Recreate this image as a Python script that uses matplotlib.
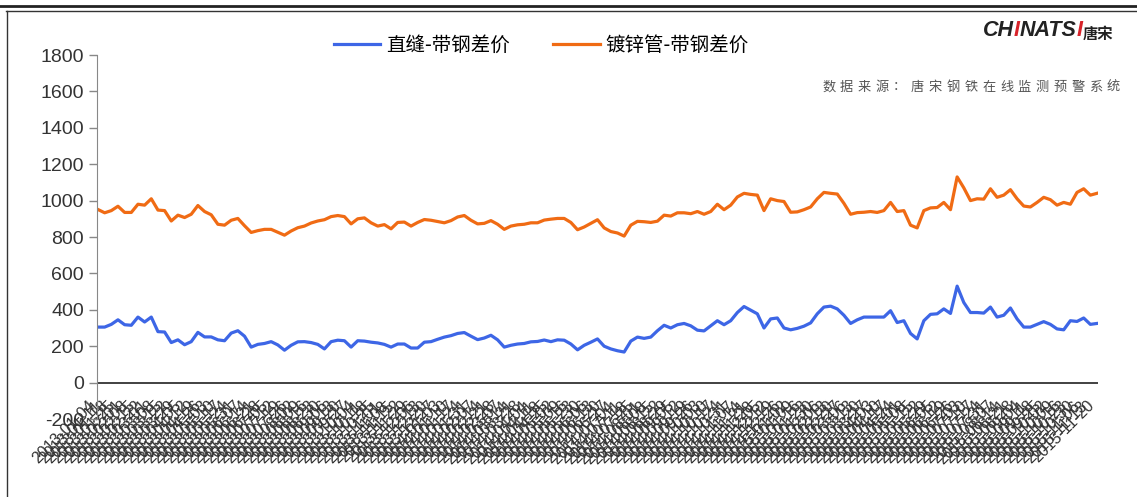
import matplotlib.pyplot as plt
import pandas as pd
from matplotlib.lines import Line2D

plt.rcParams['font.family'] = ['Liberation Sans', 'Noto Sans CJK SC', 'DejaVu Sans']
plt.rcParams['axes.unicode_minus'] = False

# 直缝-带钢差价 (元/吨), weekly
zhifeng = [305, 305, 320, 345, 318, 315, 360, 333, 360, 280,
           278, 220, 235, 208, 225, 276, 251, 251, 235, 230,
           272, 285, 255, 195, 210, 215, 225, 207, 178, 205,
           224, 225, 220, 210, 185, 225, 233, 230, 195, 230,
           228, 222, 218, 210, 195, 212, 212, 190, 190, 222,
           225, 238, 250, 258, 270, 275, 255, 236, 245, 260,
           235, 195, 205, 212, 215, 224, 226, 234, 225, 235,
           233, 212, 180, 205, 222, 240, 200, 185, 175, 168,
           228, 250, 243, 250, 285, 315, 300, 318, 325, 312,
           288, 284, 312, 340, 318, 340, 385, 418, 398, 378,
           300, 350, 355, 300, 290, 298, 310, 328, 378, 415,
           420, 405, 370, 325, 345, 360, 360, 360, 360, 395,
           330, 340, 270, 240, 340, 375, 378, 405, 380, 530,
           440, 385, 385, 382, 415, 360, 370, 410, 350, 305,
           305, 320, 335, 320, 295, 290, 340, 336, 355, 320,
           325]

# 镀锌管-带钢差价 (元/吨), weekly
duxin = [951, 933, 945, 969, 935, 935, 980, 975, 1010, 948,
         945, 888, 920, 907, 925, 973, 940, 922, 870, 865,
         892, 902, 862, 825, 835, 842, 842, 826, 810, 833,
         851, 860, 877, 888, 895, 912, 918, 912, 872, 900,
         905, 878, 860, 868, 845, 880, 882, 860, 880, 896,
         892, 885, 878, 890, 910, 918, 892, 872, 875, 890,
         870, 842, 860, 867, 870, 878, 878, 893, 898, 902,
         902, 880, 840, 855, 875, 895, 850, 830, 822, 805,
         865, 886, 884, 880, 887, 920, 915, 933, 933, 928,
         940, 925, 940, 980, 950, 975, 1020, 1040, 1034, 1030,
         945, 1010, 1000, 995, 936, 938, 950, 965, 1010, 1045,
         1040, 1036, 985, 925, 934, 936, 940, 935, 945, 990,
         940, 945, 865, 850, 945, 960, 962, 990, 950, 1130,
         1070, 1000, 1010, 1008, 1065, 1018, 1030, 1060, 1010, 970,
         965, 990, 1018, 1005, 975, 990, 980, 1045, 1065, 1030,
         1040]

dates = pd.date_range('2013-01-04', periods=len(zhifeng), freq='7D').strftime('%Y-%m-%d')
yticks = [-200, 0, 200, 400, 600, 800, 1000, 1200, 1400, 1600, 1800]
names = ['直缝-带钢差价', '镀锌管-带钢差价']
source = '数据来源：唐宋钢铁在线监测预警系统'

fig = plt.figure(figsize=(11.37, 4.97), dpi=100)
ax = fig.add_axes([97 / 1137, 1 - 419 / 497, 1001 / 1137, 364 / 497])

x = range(len(zhifeng))
ax.plot(x, zhifeng, color='#3d66e6', lw=2.3, label=names[0])
ax.plot(x, duxin, color='#f06b14', lw=2.3, label=names[1])
ax.axhline(0, color='#333333', lw=1.3)

ax.set_xlim(-0.15, len(zhifeng) - 0.85)
ax.set_ylim(-200, 1800)
ax.set_yticks(yticks)
ax.tick_params(axis='y', labelsize=14, colors='#888888', labelcolor='#333333', length=6, width=1)
ax.set_xticks(list(x))
ax.set_xticklabels(dates, rotation=45, ha='right', va='top', fontsize=11.5, color='#333333')
ax.tick_params(axis='x', length=0, pad=-15)
for s in ['top', 'right', 'bottom']:
    ax.spines[s].set_visible(False)
ax.spines['left'].set_color('#888888')

fig.legend(loc='center', bbox_to_anchor=(0.476, 0.909), ncol=2, frameon=False,
           prop={'family': ['Noto Sans CJK SC'], 'size': 14},
           handlelength=2.4, handletextpad=0.3, columnspacing=2.2)

# source note, spaced characters
for i, ch in enumerate(source):
    fig.text((822 + i * 17.8) / 1137, 1 - 87 / 497, ch, fontsize=9.5, color='#555555',
             family=['Noto Sans CJK SC'], va='center', ha='left')

# logo
t = fig.text(983 / 1137, 1 - 31 / 497, 'CH', fontsize=15.5, weight='bold', style='italic',
             color='#222222', va='center')
for part, col in [('I', '#d8232a'), ('NATS', '#222222'), ('I', '#d8232a')]:
    t = ax.annotate(part, xy=(1, 0), xycoords=t, va='bottom', fontsize=15.5, weight='bold',
                    style='italic', color=col)
ax.annotate('唐宋', xy=(1, 0), xycoords=t, va='bottom', fontsize=11, weight='bold',
            color='#222222', family=['Noto Sans CJK SC'])

# frame
fig.add_artist(Line2D([0, 1], [1 - 5.5 / 497] * 2, color='#222222', lw=2))
fig.add_artist(Line2D([6 / 1137, 1], [1 - 11 / 497] * 2, color='#333333', lw=1))
fig.add_artist(Line2D([7 / 1137] * 2, [0, 1 - 11 / 497], color='#333333', lw=1))

fig.savefig('out.png', dpi=100)
